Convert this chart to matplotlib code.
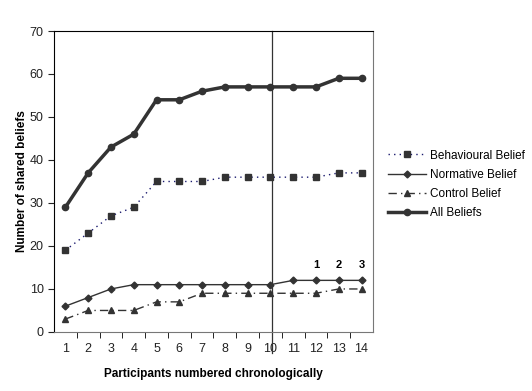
import matplotlib
matplotlib.use('Agg')
import matplotlib.pyplot as plt

plt.rcParams['font.family'] = ['Liberation Sans', 'DejaVu Sans']

participants = list(range(1, 15))
behavioural = [19, 23, 27, 29, 35, 35, 35, 36, 36, 36, 36, 36, 37, 37]
normative = [6, 8, 10, 11, 11, 11, 11, 11, 11, 11, 12, 12, 12, 12]
control = [3, 5, 5, 5, 7, 7, 9, 9, 9, 9, 9, 9, 10, 10]
all_beliefs = [29, 37, 43, 46, 54, 54, 56, 57, 57, 57, 57, 57, 59, 59]
marks = ['1', '2', '3']
mark_x = [12, 13, 14]
mark_y = 15.5
divider_x = 10

fig = plt.figure(figsize=(5.32, 3.91), dpi=100)
ax = fig.add_axes([0.1015, 0.151, 0.5995, 0.7697])

dark = '#333333'
ax.plot(participants, behavioural, linestyle=(0, (1, 3)), color='#1a1a6e', lw=1,
        marker='s', ms=4.5, mfc=dark, mec=dark, label='Behavioural Belief')
ax.plot(participants, normative, linestyle='-', color=dark, lw=1,
        marker='D', ms=3.5, mfc=dark, mec=dark, label='Normative Belief')
ax.plot(participants, control, linestyle=(0, (6, 3, 1, 3)), color=dark, lw=1,
        marker='^', ms=5, mfc=dark, mec=dark, label='Control Belief')
ax.plot(participants, all_beliefs, linestyle='-', color=dark, lw=2.5,
        marker='o', ms=4.5, mfc=dark, mec=dark, label='All Beliefs')

for t, xm in zip(marks, mark_x):
    ax.text(xm, mark_y, t, ha='center', va='center', fontsize=8, fontweight='bold')

ax.set_xlim(0.5, 14.5)
ax.set_ylim(0, 70)
ax.set_yticks(range(0, 71, 10))
ax.set_xticks(participants)
ax.set_xticks([p + 0.5 for p in participants[:-1]], minor=True)
ax.tick_params(axis='x', which='major', length=0, pad=8, labelsize=9)
ax.tick_params(axis='x', which='minor', length=4, direction='out', color='black')
ax.tick_params(axis='y', length=4, direction='out', labelsize=9, colors='#222222')
ax.tick_params(axis='x', colors='#222222')

ax.spines['left'].set_color('black')
ax.spines['top'].set_color('black')
ax.spines['right'].set_color('#777777')
ax.spines['bottom'].set_color('#777777')

ax.axvline(divider_x + 0.06, ymin=-0.07, ymax=1, color='#333333', lw=0.9, clip_on=False)

ax.set_xlabel('Participants numbered chronologically', fontsize=8.5, fontweight='bold', labelpad=9)
ax.set_ylabel('Number of shared beliefs', fontsize=8.5, fontweight='bold', labelpad=1)

ax.legend(loc='center left', bbox_to_anchor=(1.015, 0.49), frameon=False, fontsize=8.5,
          handlelength=3.2, handletextpad=0.3, labelspacing=0.62)

fig.savefig('out.png', dpi=100)
